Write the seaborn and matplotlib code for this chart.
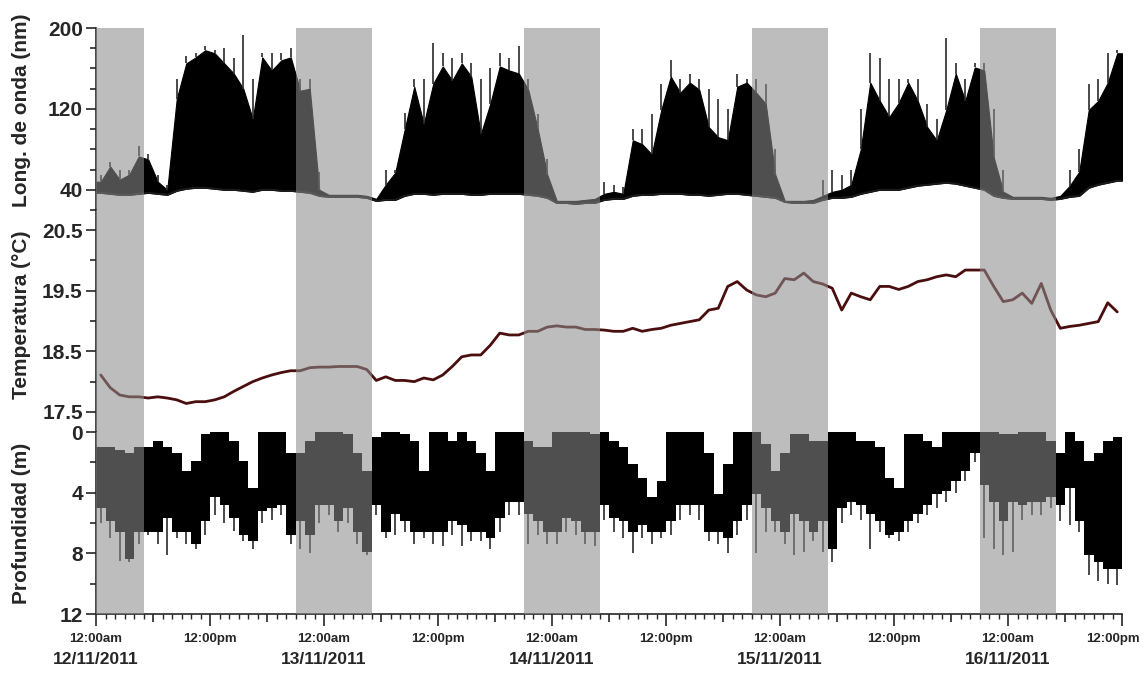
import numpy as np
import matplotlib
matplotlib.use("Agg")
import matplotlib.pyplot as plt
import matplotlib.transforms as mtransforms
import seaborn as sns
from matplotlib.ticker import FixedLocator, MultipleLocator

# ---------------- data (hourly, starting 12/11/2011 00:00) ----------------
wl_base = [37, 36, 35, 35, 36, 37, 36, 35,
           39, 41, 42, 42, 41, 40, 40, 39, 38, 40, 40, 39, 39, 38, 37,
           34, 33, 33, 33, 33, 32,
           29, 30, 30,
           34, 36, 36, 35, 36, 36, 36, 35, 35, 36, 36, 36, 36, 35, 34,
           32, 27, 27, 26, 27, 27,
           30, 31, 31,
           34, 35, 35, 36, 36, 36, 35, 35, 34, 35, 36, 36, 35, 34, 33,
           32, 28, 27, 27, 27,
           30, 32, 32, 33,
           36, 38, 40, 40, 40, 42, 44, 45, 46, 47, 46, 44, 42, 40,
           34, 32,
           31, 31, 31, 31, 30, 31,
           33, 34, 42, 45, 47, 49]
wl_upper = [48, 63, 50, 55, 73, 70, 48, 40,
            130, 165, 171, 178, 175, 165, 155, 140, 110, 171, 158, 168, 171, 138, 140,
            40, 35, 35, 35, 35, 34,
            31, 45, 57,
            100, 142, 105, 145, 162, 148, 165, 152, 95, 125, 162, 158, 155, 139, 100,
            55, 29, 29, 29, 30, 31,
            36, 38, 36,
            89, 85, 75, 119, 152, 136, 146, 139, 102, 92, 89, 142, 146, 136, 125,
            55, 29, 29, 29, 30,
            34, 38, 40, 45,
            80, 146, 128, 112, 126, 146, 128, 102, 89, 119, 155, 128, 161, 158,
            72, 38,
            33, 33, 33, 33, 32, 34,
            44, 58, 119, 128, 146, 175]
wl_peak = [55, 67, 60, 60, 83, 75, 55, 45,
           150, 172, 175, 182, 178, 180, 170, 193, 150, 175, 175, 175, 180, 150, 150,
           58, 35, 35, 35, 35, 34,
           31, 60, 60,
           116, 150, 150, 185, 175, 170, 175, 165, 150, 160, 175, 170, 182, 150, 115,
           70, 29, 29, 29, 30, 31,
           48, 45, 43,
           100, 100, 115, 145, 168, 150, 155, 150, 140, 130, 120, 155, 150, 150, 145,
           80, 29, 29, 29, 30,
           50, 60, 55, 60,
           120, 175, 170, 150, 150, 150, 150, 125, 110, 190, 165, 150, 165, 165,
           120, 60,
           33, 33, 33, 33, 32, 34,
           60, 80, 145, 150, 175, 178]

temperature = [18.11, 17.90, 17.78, 17.75, 17.75, 17.73, 17.75, 17.73, 17.70, 17.64,
               17.67, 17.67, 17.70, 17.75, 17.84, 17.92, 18.00, 18.06, 18.11, 18.15,
               18.18, 18.18, 18.23, 18.24, 18.24, 18.25, 18.25, 18.25, 18.20, 18.02,
               18.08, 18.02, 18.02, 18.00, 18.06, 18.03, 18.11, 18.25, 18.41, 18.44,
               18.44, 18.60, 18.80, 18.77, 18.77, 18.83, 18.83, 18.90, 18.92, 18.90,
               18.90, 18.86, 18.86, 18.85, 18.83, 18.83, 18.88, 18.83, 18.86, 18.88,
               18.93, 18.96, 18.99, 19.02, 19.18, 19.21, 19.57, 19.65, 19.51, 19.43,
               19.40, 19.46, 19.70, 19.68, 19.79, 19.65, 19.61, 19.54, 19.18, 19.46,
               19.40, 19.35, 19.57, 19.57, 19.52, 19.57, 19.65, 19.68, 19.73, 19.76,
               19.73, 19.84, 19.84, 19.84, 19.57, 19.32, 19.35, 19.46, 19.29, 19.62,
               19.18, 18.88, 18.91, 18.93, 18.96, 18.99, 19.30, 19.15]

depth_shallow = [1.0, 1.0, 1.2, 1.4, 1.0, 1.0, 0.6, 1.0, 1.4, 2.6,
                 1.9, 0.1, 0.0, 0.0, 0.6, 1.9, 3.7, 0.0, 0.0, 0.0,
                 1.4, 1.4, 0.6, 0.0, 0.0, 0.0, 0.1, 1.4, 2.6, 0.3,
                 0.0, 0.0, 0.1, 0.6, 2.6, 0.0, 0.0, 0.6, 0.0, 0.6,
                 1.4, 2.6, 0.0, 0.0, 0.0, 0.6, 1.0, 1.0, 0.0, 0.0,
                 0.0, 0.0, 0.1, 0.0, 0.6, 1.0, 2.1, 3.0, 4.3, 3.2,
                 0.0, 0.0, 0.0, 0.0, 1.4, 4.1, 2.1, 0.0, 0.0, 0.0,
                 0.8, 2.6, 1.4, 0.1, 0.1, 0.6, 0.6, 0.0, 0.0, 0.0,
                 0.6, 0.6, 1.0, 3.0, 3.7, 0.1, 0.1, 0.6, 1.0, 0.0,
                 0.0, 0.0, 0.0, 0.0, 0.0, 0.1, 0.1, 0.0, 0.0, 0.0,
                 0.6, 1.4, 0.0, 0.6, 1.9, 1.4, 0.6, 0.3]
depth_deep = [5.0, 5.9, 6.6, 8.4, 6.6, 6.6, 6.6, 5.7, 6.6, 6.6,
              7.4, 5.9, 4.3, 4.8, 5.7, 6.8, 7.2, 5.2, 5.0, 4.8,
              6.8, 5.9, 6.8, 4.8, 4.8, 5.9, 5.0, 6.6, 7.9, 4.8,
              6.6, 5.4, 5.9, 6.6, 6.6, 6.6, 6.6, 5.9, 6.1, 6.6,
              6.6, 7.0, 5.7, 4.6, 4.6, 5.4, 5.9, 6.6, 6.6, 5.7,
              5.9, 6.6, 6.6, 4.8, 5.7, 5.9, 6.6, 6.1, 6.6, 6.6,
              5.9, 4.8, 4.8, 4.8, 6.6, 6.6, 7.0, 5.9, 4.8, 4.1,
              5.0, 5.9, 6.6, 5.4, 5.9, 6.6, 5.9, 7.7, 5.0, 4.6,
              4.8, 5.4, 5.9, 6.8, 6.6, 5.9, 5.4, 4.8, 4.1, 3.9,
              3.2, 2.6, 1.4, 3.5, 4.6, 5.9, 4.6, 4.8, 4.6, 4.6,
              4.3, 4.8, 3.7, 5.9, 8.1, 8.6, 9.0, 9.0]
depth_spike = [6.0, 7.0, 8.5, 8.6, 7.4, 6.8, 7.4, 8.1, 7.0, 7.4,
               7.7, 6.8, 5.5, 6.0, 6.5, 7.2, 7.7, 6.0, 5.8, 5.5,
               7.4, 7.7, 8.0, 6.0, 5.5, 6.6, 6.0, 7.4, 8.1, 5.5,
               7.0, 6.8, 6.6, 7.4, 7.0, 7.4, 7.5, 6.8, 7.5, 7.2,
               7.2, 7.7, 6.6, 5.5, 5.5, 7.4, 6.8, 7.4, 7.4, 6.6,
               6.8, 7.4, 7.5, 5.8, 6.6, 7.0, 8.0, 7.0, 7.4, 7.0,
               6.8, 5.8, 5.5, 5.8, 7.2, 7.4, 8.0, 6.8, 5.8, 8.0,
               6.6, 6.6, 7.4, 8.1, 7.9, 7.2, 7.9, 8.6, 6.0, 5.5,
               5.8, 7.7, 6.6, 7.0, 7.2, 6.6, 6.0, 5.5, 5.0, 4.6,
               4.0, 3.2, 2.0, 7.0, 7.7, 8.1, 7.9, 5.8, 5.5, 5.5,
               5.0, 5.9, 6.1, 6.6, 9.4, 9.8, 10.0, 10.1]

night_start = [0, 21, 45, 69, 93]
night_end = [5, 29, 53, 77, 101]

tick_hours = [0, 12, 24, 36, 48, 60, 72, 84, 96, 108]
tick_labels = ["12:00am", "12:00pm", "12:00am", "12:00pm", "12:00am",
               "12:00pm", "12:00am", "12:00pm", "12:00am", "12:00pm"]
date_hours = [0, 24, 48, 72, 96]
date_labels = ["12/11/2011", "13/11/2011", "14/11/2011", "15/11/2011", "16/11/2011"]

# ---------------- style ----------------
sns.set_style("ticks")
plt.rcParams["font.family"] = ["Liberation Sans", "DejaVu Sans"]
plt.rcParams["font.weight"] = "bold"
plt.rcParams["axes.labelweight"] = "bold"
plt.rcParams["axes.linewidth"] = 1.2

n = len(temperature)
edges = np.arange(n + 1)
centers = np.arange(n) + 0.5
xs = np.concatenate([[0.0], centers, [float(n)]])   # hour-bin centres plus both ends


def ext(v):
    """repeat first/last reading at the two ends of the time axis"""
    return np.pad(np.asarray(v, dtype=float), 1, mode="edge")


fig = plt.figure(figsize=(11.46, 6.74), dpi=100)
L = 96 / 1146
W = (1122 - 96) / 1146
ax1 = fig.add_axes([L, 1 - 210 / 674, W, 182 / 674])
ax2 = fig.add_axes([L, 1 - 432 / 674, W, 222 / 674], sharex=ax1)
ax3 = fig.add_axes([L, 1 - 614 / 674, W, 182 / 674], sharex=ax1)

# wavelength
ax1.fill_between(xs, ext(wl_base), ext(wl_upper), color="black", lw=0.8, zorder=2)
ax1.vlines(centers, wl_upper, wl_peak, color="#2a2a2a", lw=1.2, zorder=2)
ax1.plot(xs, ext(wl_base), color="#1a1a1a", lw=1.4, zorder=2)

# temperature
sns.lineplot(x=centers, y=temperature, ax=ax2, color="#4a0e0e", lw=2.0, zorder=2)

# depth (stepped, as the logger records discrete depth levels)
ax3.stairs(depth_deep, edges, baseline=depth_shallow, fill=True, color="black", zorder=2)
ax3.vlines(centers, depth_deep, depth_spike, color="#2a2a2a", lw=1.2, zorder=2)

for ax in (ax1, ax2, ax3):
    for s, e in zip(night_start, night_end):
        ax.axvspan(s, e, color="#8c8c8c", alpha=0.57, lw=0, zorder=3)
    ax.spines["top"].set_visible(False)
    ax.spines["right"].set_visible(False)
    ax.tick_params(axis="y", which="major", length=7.5, width=1.2, labelsize=15, pad=2)
    ax.tick_params(axis="y", which="minor", length=4.5, width=1.2)
    ax.set_facecolor("white")

for ax in (ax1, ax2):
    ax.spines["bottom"].set_visible(False)
    ax.tick_params(axis="x", which="both", bottom=False, labelbottom=False)

ax1.set_ylim(20, 200)
ax1.set_yticks([40, 120, 200])
ax1.yaxis.set_minor_locator(FixedLocator([20, 60, 80, 100, 140, 160, 180]))

ax2.set_ylim(17.17, 20.83)
ax2.set_yticks([17.5, 18.5, 19.5, 20.5], ["17.5", "18.5", "19.5", "20.5"])
ax2.yaxis.set_minor_locator(FixedLocator([18, 19, 20]))

ax3.set_ylim(12, 0)
ax3.set_yticks([0, 4, 8, 12])
ax3.yaxis.set_minor_locator(FixedLocator([2, 6, 10]))

ax3.set_xlim(0, 108)
major_hours = list(range(0, 109, 6))
major_labels = [tick_labels[tick_hours.index(h)] if h in tick_hours else "" for h in major_hours]
ax3.set_xticks(major_hours, major_labels)
ax3.xaxis.set_minor_locator(MultipleLocator(1))
ax3.tick_params(axis="x", which="major", length=8.6, width=1.2, labelsize=9.5, pad=5)
ax3.tick_params(axis="x", which="minor", length=3.6, width=1.0)
for tk, h in zip(ax3.xaxis.get_major_ticks(), major_hours):
    if h not in tick_hours:
        tk.tick1line.set_markersize(5.8)

# keep the last time label inside the figure, as in the reference
last_lbl = ax3.get_xticklabels()[-1]
last_lbl.set_transform(last_lbl.get_transform() +
                       mtransforms.ScaledTranslation(-9 / 100, 0, fig.dpi_scale_trans))

for h, d in zip(date_hours, date_labels):
    ax3.annotate(d, xy=(h, 0), xycoords=("data", "axes fraction"),
                 xytext=(0, -33), textcoords="offset points",
                 ha="center", va="center", fontsize=12.5, fontweight="bold",
                 annotation_clip=False)

ax1.set_ylabel("Long. de onda (nm)", fontsize=15)
ax2.set_ylabel("Temperatura (°C)", fontsize=15)
ax3.set_ylabel("Profundidad (m)", fontsize=15)
ax1.yaxis.set_label_coords(-0.063, 0.55)
ax2.yaxis.set_label_coords(-0.063, 0.53)
ax3.yaxis.set_label_coords(-0.063, 0.5)

fig.savefig("out.png", dpi=100, facecolor="white")
